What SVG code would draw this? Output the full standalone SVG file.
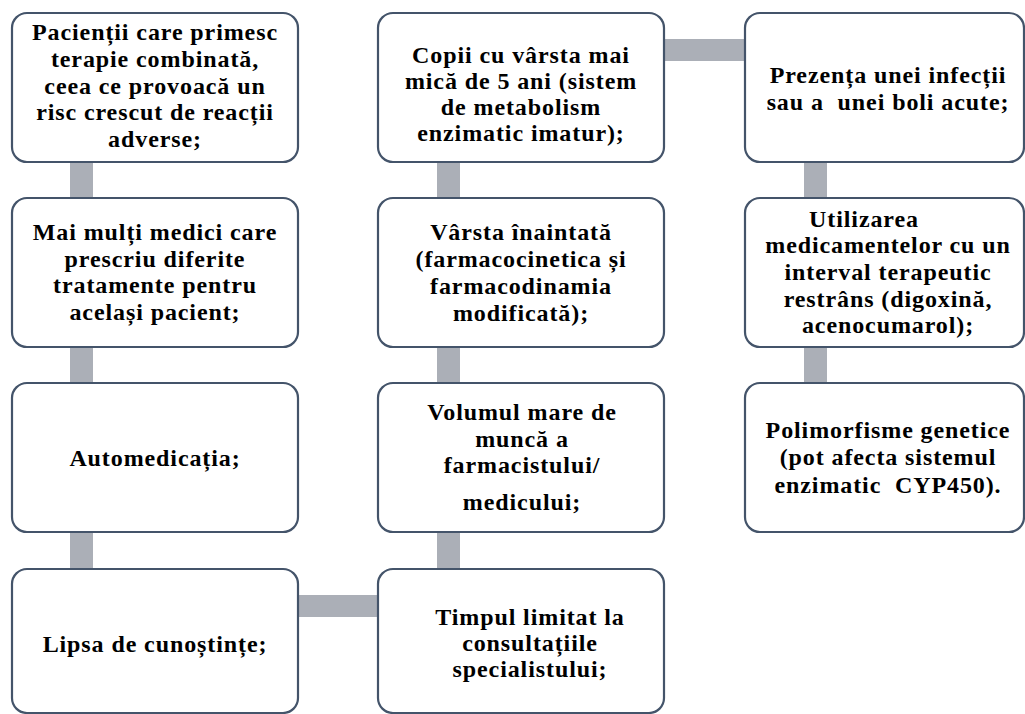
<svg xmlns="http://www.w3.org/2000/svg" width="1025" height="714" viewBox="0 0 1025 714">
<style>
.box{fill:#ffffff;stroke:#44546A;stroke-width:2.2}
.con{fill:#ABAFB7}
text{font-family:"Liberation Serif","Times New Roman",serif;font-weight:bold;font-size:24px;letter-spacing:0.9px;fill:#000;text-anchor:middle}
</style>
<rect width="1025" height="714" fill="#ffffff"/>
<g id="connectors">
<rect class="con" x="70" y="150" width="23" height="430"/>
<rect class="con" x="437" y="150" width="23" height="430"/>
<rect class="con" x="804" y="150" width="23" height="245"/>
<rect class="con" x="655" y="39" width="100" height="22"/>
<rect class="con" x="290" y="595" width="98" height="22"/>
</g>
<g id="n1">
<rect class="box" x="12" y="13" width="286" height="149" rx="15"/>
<text x="155" y="40">Pacienții care primesc</text>
<text x="155" y="67">terapie combinată,</text>
<text x="155" y="94">ceea ce provoacă un</text>
<text x="155" y="120">risc crescut de reacții</text>
<text x="155" y="147">adverse;</text>
</g>
<g id="n2">
<rect class="box" x="12" y="198" width="286" height="149" rx="15"/>
<text x="155" y="240">Mai mulți medici care</text>
<text x="155" y="267">prescriu diferite</text>
<text x="155" y="293">tratamente pentru</text>
<text x="155" y="320">același pacient;</text>
</g>
<g id="n3">
<rect class="box" x="12" y="383" width="286" height="149" rx="15"/>
<text x="155" y="466">Automedicația;</text>
</g>
<g id="n4">
<rect class="box" x="12" y="569" width="286" height="144" rx="15"/>
<text x="155" y="652">Lipsa de cunoștințe;</text>
</g>
<g id="n5">
<rect class="box" x="378" y="13" width="286" height="149" rx="15"/>
<text x="521" y="63">Copii cu vârsta mai</text>
<text x="521" y="89">mică de 5 ani (sistem</text>
<text x="521" y="115">de metabolism</text>
<text x="521" y="141">enzimatic imatur);</text>
</g>
<g id="n6">
<rect class="box" x="378" y="198" width="286" height="149" rx="15"/>
<text x="521" y="240">Vârsta înaintată</text>
<text x="521" y="267">(farmacocinetica și</text>
<text x="521" y="294">farmacodinamia</text>
<text x="521" y="321">modificată);</text>
</g>
<g id="n7">
<rect class="box" x="378" y="383" width="286" height="149" rx="15"/>
<text x="522" y="420">Volumul mare de</text>
<text x="522" y="447">muncă a</text>
<text x="522" y="473">farmacistului/</text>
<text x="522" y="510">medicului;</text>
</g>
<g id="n8">
<rect class="box" x="378" y="569" width="286" height="144" rx="15"/>
<text x="530" y="625">Timpul limitat la</text>
<text x="530" y="651">consultațiile</text>
<text x="530" y="677">specialistului;</text>
</g>
<g id="n9">
<rect class="box" x="745" y="13" width="279" height="149" rx="15"/>
<text x="888" y="83">Prezența unei infecții</text>
<text x="888" y="110" xml:space="preserve">sau a  unei boli acute;</text>
</g>
<g id="n10">
<rect class="box" x="745" y="198" width="279" height="149" rx="15"/>
<text x="864" y="227">Utilizarea</text>
<text x="888" y="253">medicamentelor cu un</text>
<text x="888" y="280">interval terapeutic</text>
<text x="888" y="307">restrâns (digoxină,</text>
<text x="888" y="333">acenocumarol);</text>
</g>
<g id="n11">
<rect class="box" x="745" y="383" width="279" height="149" rx="15"/>
<text x="888" y="438">Polimorfisme genetice</text>
<text x="888" y="465">(pot afecta sistemul</text>
<text x="888" y="493" xml:space="preserve">enzimatic  CYP450).</text>
</g>
</svg>
